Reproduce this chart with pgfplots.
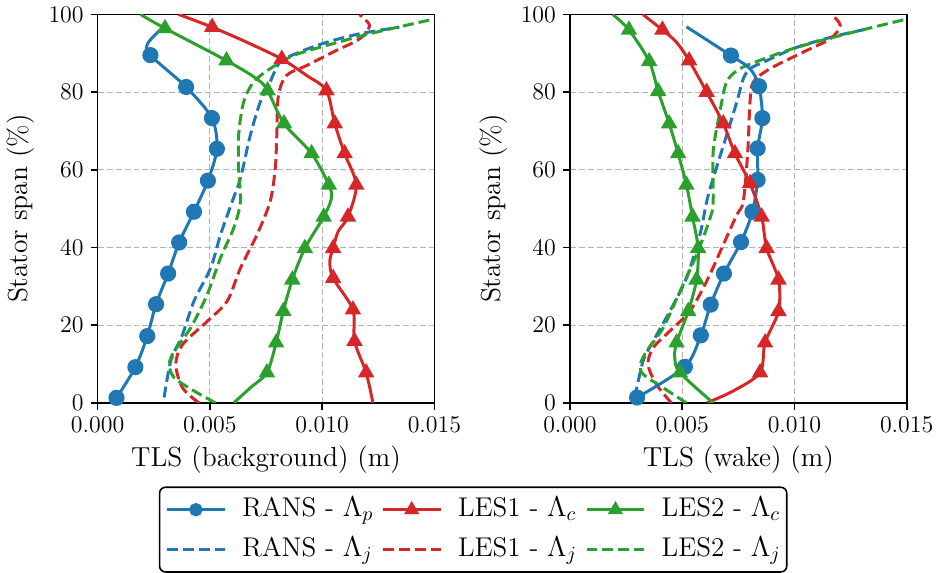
\documentclass[border=0pt]{standalone}
\usepackage{pgfplots}
\pgfplotsset{compat=1.18}
\definecolor{tabblue}{HTML}{1F77B4}
\definecolor{tabred}{HTML}{D62728}
\definecolor{tabgreen}{HTML}{2CA02C}
\newcommand{\tickfont}{\fontsize{12.7}{15}\selectfont}
\newcommand{\labfont}{\fontsize{13.8}{16}\selectfont}
\newcommand{\legfont}{\fontsize{13.6}{16}\selectfont}
\pgfplotsset{
  panel/.style={
    scale only axis, width=169pt, height=195pt,
    xmin=0, xmax=0.015, ymin=0, ymax=100,
    xtick={0,0.005,0.01,0.015}, ytick={0,20,40,60,80,100},
    scaled x ticks=false,
    xticklabel style={/pgf/number format/.cd,fixed,fixed zerofill,precision=3},
    grid=major, grid style={dash pattern=on 3pt off 1.5pt, color=black!30, line width=0.5pt},
    tick align=outside, tick pos=left, major tick length=3.5pt,
    tick style={black, line width=0.8pt},
    axis line style={line width=0.8pt},
    label style={font=\labfont},
    tick label style={font=\tickfont},
    ylabel={Stator span (\%)},
    ylabel style={yshift=0pt},
  },
  solidc/.style={line width=1.5pt, smooth, mark size=3.3pt, mark options={solid}, forget plot},
  dashc/.style={line width=1.5pt, smooth, dash pattern=on 5.5pt off 2.5pt, forget plot},
  legend image code/.code={\draw[mark repeat=2,mark phase=2,#1] plot coordinates {(0pt,0pt) (14.5pt,0pt) (29pt,0pt)};},
}
\begin{document}
\begin{tikzpicture}
\begin{axis}[panel,
  xlabel={TLS (background) (m)},
  legend columns=3,
  legend style={at={(1.115,-0.215)}, anchor=north, draw=black, line width=0.8pt, rounded corners=3pt,
    font=\legfont, inner xsep=3pt, inner ysep=5pt,
    nodes={inner sep=0pt, text height=9.5pt, text depth=3pt},
    /tikz/every odd column/.append style={column sep=8pt},
    /tikz/every even column/.append style={column sep=4pt},
    row sep=7.5pt},
  legend cell align=left,
]
\addlegendimage{tabblue, line width=1.5pt, mark=*, mark size=2.6pt}
\addlegendentry{RANS - $\Lambda_p$}
\addlegendimage{tabred, line width=1.5pt, mark=triangle*, mark size=2.9pt}
\addlegendentry{LES1 - $\Lambda_c$}
\addlegendimage{tabgreen, line width=1.5pt, mark=triangle*, mark size=2.9pt}
\addlegendentry{LES2 - $\Lambda_c$}
\addlegendimage{tabblue, line width=1.5pt, dash pattern=on 5.5pt off 2.5pt}
\addlegendentry{RANS - $\Lambda_j$}
\addlegendimage{tabred, line width=1.5pt, dash pattern=on 5.5pt off 2.5pt}
\addlegendentry{LES1 - $\Lambda_j$}
\addlegendimage{tabgreen, line width=1.5pt, dash pattern=on 5.5pt off 2.5pt}
\addlegendentry{LES2 - $\Lambda_j$}
% RANS Lambda_j
\addplot[tabblue, dashc] coordinates {
(0.00296,1.4) (0.00326,10.8) (0.00378,17.6) (0.00429,26.2) (0.00503,34.7) (0.00547,43.2)
(0.00599,51.8) (0.00636,57.8) (0.0068,68.9) (0.00724,77.4) (0.00768,82.6) (0.00813,87.7)
(0.009,90.3) (0.0102,92.8) (0.01167,95) (0.01344,96.7)};
% LES1 Lambda_j
\addplot[tabred, dashc] coordinates {
(0.00451,0) (0.00378,3.9) (0.00348,9.9) (0.00378,15) (0.00488,21) (0.00577,26.2) (0.00636,34.7)
(0.00709,43.2) (0.00768,51.8) (0.00791,60.3) (0.00798,68.9) (0.00805,79.1) (0.00842,84.3)
(0.0093,86.8) (0.01049,90.3) (0.01167,93.7) (0.01211,97.1) (0.01167,99.9)};
% LES2 Lambda_j
\addplot[tabgreen, dashc] coordinates {
(0.00525,0) (0.00429,3.1) (0.00341,6.5) (0.00319,9.9) (0.00341,13.3) (0.00414,19.3) (0.00488,27.9)
(0.00547,37.3) (0.00606,45) (0.00636,51.8) (0.00628,60) (0.00628,68.9) (0.0065,77.4)
(0.00695,82.6) (0.00768,86) (0.00872,89.4) (0.0102,92) (0.0124,95.4) (0.0150,98.8)};
% RANS Lambda_p
\addplot[tabblue, solidc, mark=*, mark indices={1,2,3,4,5,6,7,8,9,10,11,12}] coordinates {
(0.00084,1.3) (0.00168,9.2) (0.00221,17.2) (0.0026,25.4) (0.00314,33.3) (0.00363,41.3)
(0.00429,49.2) (0.00491,57.2) (0.00531,65.4) (0.00509,73.3) (0.00394,81.3) (0.00235,89.5)
(0.00223,92.5) (0.00283,96.2)};
% LES1 Lambda_c
\addplot[tabred, solidc, mark=triangle*, mark indices={2,3,4,5,7,9,10,11,12,13,15,17}] coordinates {
(0.01226,0) (0.01196,7.8) (0.01144,15.9) (0.01137,24) (0.01049,32.1) (0.01034,36.4) (0.01049,39.8)
(0.01071,44.1) (0.01115,47.9) (0.01152,56.1) (0.011,64.2) (0.01056,71.9) (0.01019,80.4)
(0.0093,84.3) (0.0082,88.5) (0.00665,92.8) (0.0051,96.7) (0.0036,100)};
% LES2 Lambda_c
\addplot[tabgreen, solidc, mark=triangle*, mark indices={3,4,5,6,7,8,10,11,12,13,15,16}] coordinates {
(0.00606,0) (0.0068,3.9) (0.00754,7.8) (0.00795,15.5) (0.00827,23.6) (0.00867,31.7) (0.00923,39.8)
(0.01007,47.9) (0.01041,52.6) (0.0103,56.1) (0.00953,64.2) (0.0083,71.9) (0.00757,80.4)
(0.00709,83.4) (0.00574,88.1) (0.003,96.4) (0.0019,100)};
\end{axis}

\begin{axis}[panel, at={(237pt,0)}, xlabel={TLS (wake) (m)}]
% RANS Lambda_j
\addplot[tabblue, dashc] coordinates {
(0.00289,1.4) (0.00326,10.8) (0.00371,15.9) (0.00445,23.6) (0.00519,32.1) (0.00579,43.3)
(0.00609,51.8) (0.00638,57.8) (0.00698,68.9) (0.00743,77.4) (0.00772,83.4) (0.00802,86)
(0.00862,87.7) (0.0101,91.5) (0.01189,94.5) (0.01338,96.4)};
% LES1 Lambda_j
\addplot[tabred, dashc] coordinates {
(0.00452,0) (0.00385,4.8) (0.00348,9.9) (0.00371,14.2) (0.00445,18.5) (0.00534,23.6) (0.00609,31.3)
(0.00683,40.7) (0.00743,48.4) (0.00772,51.8) (0.00792,64.6) (0.00802,77.4) (0.00817,82.6)
(0.00891,86) (0.0104,90.3) (0.01159,93.7) (0.01204,97.1) (0.01167,99.9)};
% LES2 Lambda_j
\addplot[tabgreen, dashc] coordinates {
(0.00519,0) (0.00415,3.9) (0.00326,7.4) (0.00314,9.9) (0.00341,13.3) (0.00415,19.3) (0.0049,28.7)
(0.00564,38.1) (0.00624,47.5) (0.00638,51.8) (0.00638,64.6) (0.00668,74.9) (0.00698,82.6)
(0.00757,86) (0.00862,88.5) (0.0101,91.5) (0.01234,95) (0.01501,98.8)};
% RANS Lambda_p
\addplot[tabblue, solidc, mark=*, mark indices={1,2,3,4,5,6,7,8,9,10,11,13}] coordinates {
(0.00299,1.4) (0.00512,9.3) (0.00583,17.4) (0.00627,25.3) (0.00686,33.3) (0.00762,41.4)
(0.00813,49.2) (0.00836,57.4) (0.00836,65.5) (0.00857,73.3) (0.00842,81.5) (0.00802,86)
(0.00717,89.4) (0.00519,96.8)};
% LES1 Lambda_c
\addplot[tabred, solidc, mark=triangle*, mark indices={3,4,5,6,7,8,9,10,11,12,13,15}] coordinates {
(0.00609,0) (0.00728,3.1) (0.00847,7.8) (0.00869,15.5) (0.00929,23.6) (0.00929,31.7) (0.00876,39.8)
(0.00854,47.9) (0.00802,56.5) (0.00735,64.2) (0.00683,71.9) (0.00609,80) (0.00531,88.1)
(0.00475,92.8) (0.00412,96) (0.00326,99.9)};
% LES2 Lambda_c
\addplot[tabgreen, solidc, mark=triangle*, mark indices={2,4,5,6,7,8,9,10,11,12,13,14}] coordinates {
(0.00638,0) (0.0049,7.8) (0.00467,11.6) (0.00475,15.5) (0.00527,23.6) (0.00564,31.7) (0.00571,39.8)
(0.00546,47.9) (0.00519,56.1) (0.00482,64.2) (0.00442,71.9) (0.00393,80.2) (0.00353,87.9)
(0.00263,96) (0.00192,99.9)};
\end{axis}
\path (-49pt,-85pt) rectangle (421pt,201pt);
\end{tikzpicture}
\end{document}
